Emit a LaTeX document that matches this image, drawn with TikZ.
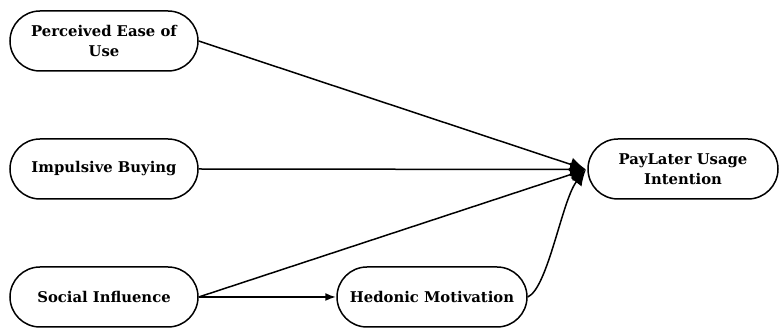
\documentclass[tikz,border=0pt]{standalone}
\usepackage{fontspec}
\setmainfont{DejaVu Serif}
\usetikzlibrary{shapes.misc,arrows.meta}
\tikzset{
  oval/.style={draw, line width=1.5pt, rounded rectangle, minimum width=188pt, minimum height=60pt, inner sep=0pt, align=center, font=\fontsize{14.8}{19.5}\selectfont\bfseries},
  conn/.style={line width=1.5pt},
  bigtip/.style={-{Latex[length=16pt,width=14pt]}},
  smalltip/.style={-{Latex[length=11pt,width=8pt]}}
}
\begin{document}
\begin{tikzpicture}[x=1pt,y=-1pt]
\useasboundingbox (0,0) rectangle (780,328);
\node[oval] (pe) at (104,41) {Perceived Ease of\\Use};
\node[oval] (ib) at (104,169) {Impulsive Buying};
\node[oval] (si) at (104,297) {Social Influence};
\node[oval, minimum width=190pt] (hm) at (432,297) {Hedonic Motivation};
\node[oval, minimum width=190pt] (pl) at (683,169) {PayLater Usage\\Intention};
\coordinate (t) at (586,169.5);
\draw[conn, bigtip] (pe.east) -- (t);
\draw[conn, bigtip] (ib.east) -- (t);
\draw[conn, bigtip] (si.east) -- (t);
\draw[conn, bigtip] (hm.east) .. controls (548,288) and (562,200) .. (t);
\draw[conn, line width=1.9pt, smalltip] (si.east) -- (hm.west);
\end{tikzpicture}
\end{document}
